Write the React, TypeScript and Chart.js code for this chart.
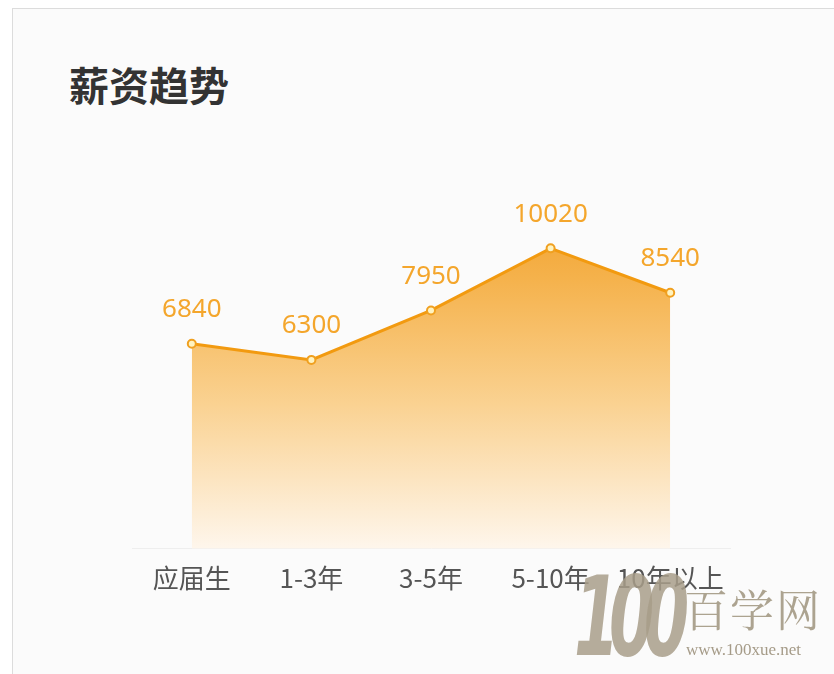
import React, { useEffect, useRef } from "react";
import { Chart, registerables } from "chart.js";

Chart.register(...registerables);

const categories: string[] = ["应届生", "1-3年", "3-5年", "5-10年", "10年以上"];
const salaries: number[] = [6840, 6300, 7950, 10020, 8540];
const titleText = "薪资趋势";

const valueLabelPlugin = {
  id: "valueLabels",
  afterDatasetsDraw(chart: any) {
    const ctx = chart.ctx;
    const meta = chart.getDatasetMeta(0);
    const data = chart.data.datasets[0].data as number[];
    ctx.save();
    ctx.font = '26px "Noto Sans", sans-serif';
    ctx.fillStyle = "#f4a62c";
    ctx.textAlign = "center";
    ctx.textBaseline = "middle";
    meta.data.forEach((pt: any, i: number) => {
      ctx.fillText(String(data[i]), pt.x, pt.y - 34);
    });
    ctx.restore();
  },
};

export default function App() {
  const canvasRef = useRef<HTMLCanvasElement | null>(null);

  useEffect(() => {
    document.body.style.margin = "0";
    const canvas = canvasRef.current;
    if (!canvas) return;
    const chart = new Chart(canvas, {
      type: "line",
      data: {
        labels: categories,
        datasets: [
          {
            data: salaries,
            borderColor: "#f29a10",
            borderWidth: 3,
            tension: 0,
            fill: "origin",
            backgroundColor: (c: any) => {
              const area = c.chart.chartArea;
              if (!area) return "rgba(245,170,60,0.6)";
              const g = c.chart.ctx.createLinearGradient(0, area.top, 0, area.bottom);
              g.addColorStop(0, "rgba(241,156,34,1)");
              g.addColorStop(0.25, "rgba(245,178,76,1)");
              g.addColorStop(0.6, "rgba(250,210,146,1)");
              g.addColorStop(1, "rgba(254,246,236,1)");
              return g;
            },
            pointRadius: 4,
            pointBorderWidth: 2,
            pointBackgroundColor: "#fff3c0",
            pointBorderColor: "#f0a020",
          },
        ],
      },
      options: {
        animation: false,
        responsive: false,
        maintainAspectRatio: false,
        layout: { padding: { left: 132, right: 104, top: 189, bottom: 66 } },
        plugins: {
          legend: { display: false },
          tooltip: { enabled: false },
          title: { display: false },
        },
        scales: {
          x: {
            type: "category",
            offset: true,
            grid: { display: false, drawTicks: false },
            border: { display: true, color: "#eeeeee", width: 1 },
            ticks: {
              padding: 14,
              color: "#555555",
              font: { size: 26, family: '"Noto Sans CJK SC", "Noto Sans", sans-serif' },
              maxRotation: 0,
              autoSkip: false,
            },
          },
          y: {
            display: false,
            min: 0,
            max: 12000,
          },
        },
      },
      plugins: [valueLabelPlugin],
    });
    return () => chart.destroy();
  }, []);

  return (
    <div style={{ position: "relative", width: 834, height: 674, background: "#ffffff", overflow: "hidden" }}>
      <div
        style={{
          position: "absolute",
          left: 12,
          top: 8,
          width: 840,
          height: 700,
          background: "#fbfbfb",
          border: "1px solid #dcdcdc",
        }}
      />
      <div
        style={{
          position: "absolute",
          left: 69,
          top: 60,
          fontFamily: '"Noto Sans CJK SC", sans-serif',
          fontWeight: 700,
          fontSize: 40,
          lineHeight: "48px",
          color: "#333333",
        }}
      >
        {titleText}
      </div>
      <canvas
        ref={canvasRef}
        width={834}
        height={674}
        style={{ position: "absolute", left: 0, top: 0, width: 834, height: 674 }}
      />
      <div
        style={{
          position: "absolute",
          left: 574,
          top: 562,
          fontFamily: '"DejaVu Sans Condensed", "DejaVu Sans", sans-serif',
          fontWeight: 700,
          fontStyle: "italic",
          fontSize: 110,
          lineHeight: "110px",
          letterSpacing: -16,
          color: "rgba(168,158,138,0.85)",
          transform: "scaleX(0.66)",
          transformOrigin: "left top",
        }}
      >
        100
      </div>
      <div
        style={{
          position: "absolute",
          left: 684,
          top: 580,
          fontFamily: '"Noto Serif CJK SC", "Noto Sans CJK SC", serif',
          fontSize: 44,
          lineHeight: "56px",
          letterSpacing: 2,
          color: "rgba(168,158,138,0.95)",
        }}
      >
        百学网
      </div>
      <div
        style={{
          position: "absolute",
          left: 686,
          top: 640,
          fontFamily: '"Liberation Serif", serif',
          fontSize: 17,
          lineHeight: "20px",
          color: "rgba(160,150,130,0.95)",
        }}
      >
        www.100xue.net
      </div>
    </div>
  );
}
